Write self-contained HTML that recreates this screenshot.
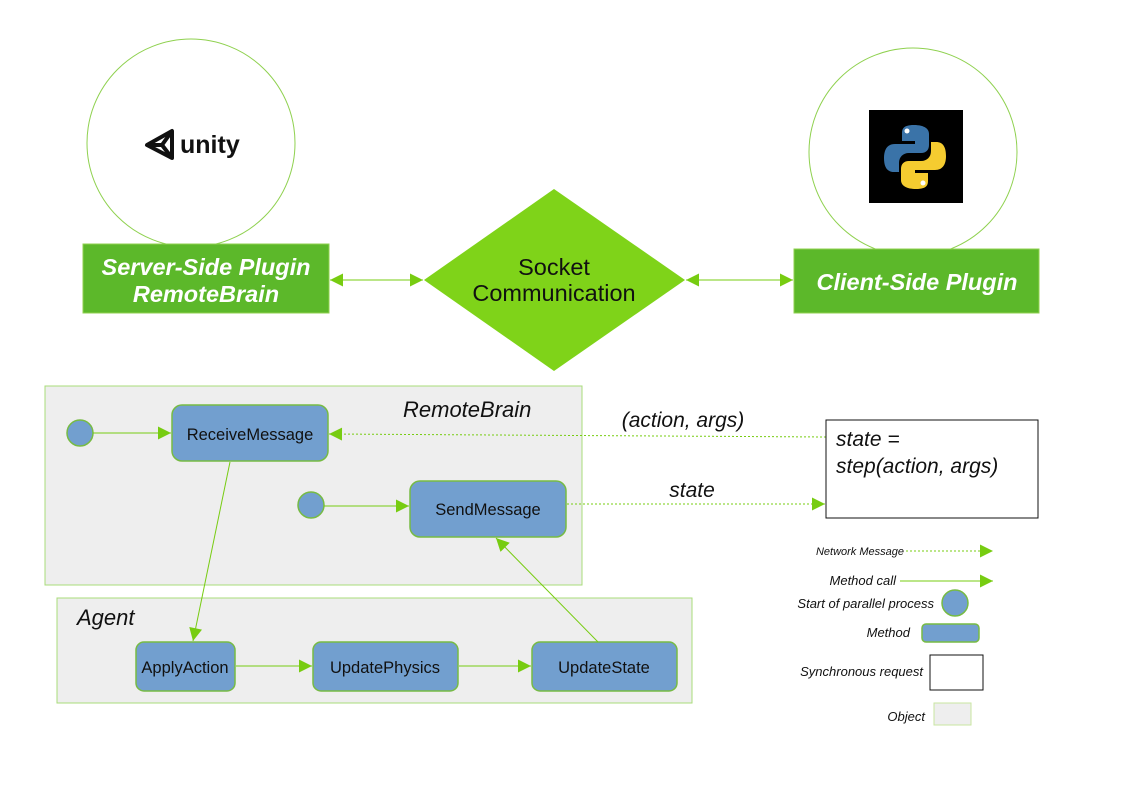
<!DOCTYPE html>
<html><head><meta charset="utf-8"><style>
body{margin:0;background:#fff}
svg{display:block}
text{font-family:"Liberation Sans",sans-serif}
</style></head><body>
<svg width="1123" height="794" viewBox="0 0 1123 794" xmlns="http://www.w3.org/2000/svg">
<defs>
<marker id="a" viewBox="0 0 10 10" refX="10" refY="5" markerWidth="17" markerHeight="13" markerUnits="userSpaceOnUse" orient="auto-start-reverse"><path d="M0,0L10,5L0,10z" fill="#77cc11"/></marker>
</defs>
<circle cx="191" cy="143" r="104" fill="#fff" stroke="#8fd14f" stroke-width="1"/>
<circle cx="913" cy="152" r="104" fill="#fff" stroke="#8fd14f" stroke-width="1"/>
<g fill="none" stroke="#111" stroke-width="4" stroke-linejoin="round">
<path d="M147,145 L172,131 L172,158 Z"/>
<path d="M147,145 L162,145 L172,131 M162,145 L172,158"/>
</g>
<text x="180" y="153" font-size="25" font-weight="bold" fill="#111">unity</text>
<rect x="869" y="110" width="94" height="93" fill="#000"/>
<path d="M914,125 c-12,0 -12,5 -12,9 v7 h13 v3 h-20 c-8,0 -11,6 -11,14 c0,9 3,14 10,14 h5 v-9 c0,-6 4,-10 10,-10 h12 c5,0 8,-3 8,-8 v-11 c0,-6 -6,-9 -15,-9z" fill="#3a73a8"/>
<path d="M916,189 c12,0 12,-5 12,-9 v-7 h-13 v-3 h20 c8,0 11,-6 11,-14 c0,-9 -3,-14 -10,-14 h-5 v9 c0,6 -4,10 -10,10 h-12 c-5,0 -8,3 -8,8 v11 c0,6 6,9 15,9z" fill="#f5cc30"/>
<circle cx="907" cy="131" r="2.5" fill="#fff"/><circle cx="923" cy="183" r="2.5" fill="#fff"/>
<rect x="83" y="244" width="246" height="69" fill="#5cb82a" stroke="#8fd14f"/>
<text x="206" y="275" font-size="23.5" font-weight="bold" font-style="italic" fill="#fff" text-anchor="middle">Server-Side Plugin</text>
<text x="206" y="302" font-size="23.5" font-weight="bold" font-style="italic" fill="#fff" text-anchor="middle">RemoteBrain</text>
<rect x="794" y="249" width="245" height="64" fill="#5cb82a" stroke="#8fd14f"/>
<text x="917" y="290" font-size="23.5" font-weight="bold" font-style="italic" fill="#fff" text-anchor="middle">Client-Side Plugin</text>
<path d="M554,189 L685,280 L554,371 L424,280 Z" fill="#7fd319"/>
<text x="554" y="275" font-size="23.5" fill="#111" text-anchor="middle">Socket</text>
<text x="554" y="301" font-size="23.5" fill="#111" text-anchor="middle">Communication</text>
<line x1="330" y1="280" x2="423" y2="280" stroke="#77cc11" marker-start="url(#a)" marker-end="url(#a)"/>
<line x1="686" y1="280" x2="793" y2="280" stroke="#77cc11" marker-start="url(#a)" marker-end="url(#a)"/>
<rect x="45" y="386" width="537" height="199" fill="#eeeeee" stroke="#a8dc7a"/>
<text x="403" y="417" font-size="22" font-style="italic" fill="#111">RemoteBrain</text>
<rect x="57" y="598" width="635" height="105" fill="#eeeeee" stroke="#a8dc7a"/>
<text x="77" y="625" font-size="22" font-style="italic" fill="#111">Agent</text>
<g fill="#729fcf" stroke="#77bb44" stroke-width="1.5">
<circle cx="80" cy="433" r="13"/><circle cx="311" cy="505" r="13"/>
<rect x="172" y="405" width="156" height="56" rx="10"/>
<rect x="410" y="481" width="156" height="56" rx="10"/>
<rect x="136" y="642" width="99" height="49" rx="8"/>
<rect x="313" y="642" width="145" height="49" rx="8"/>
<rect x="532" y="642" width="145" height="49" rx="8"/>
</g>
<g font-size="16.5" fill="#111" text-anchor="middle">
<text x="250" y="440">ReceiveMessage</text>
<text x="488" y="515">SendMessage</text>
<text x="185" y="673">ApplyAction</text>
<text x="385" y="673">UpdatePhysics</text>
<text x="604" y="673">UpdateState</text>
</g>
<g stroke="#77cc11" fill="none">
<line x1="93" y1="433" x2="171" y2="433" marker-end="url(#a)"/>
<line x1="324" y1="506" x2="409" y2="506" marker-end="url(#a)"/>
<line x1="230" y1="462" x2="193" y2="641" marker-end="url(#a)"/>
<line x1="236" y1="666" x2="312" y2="666" marker-end="url(#a)"/>
<line x1="459" y1="666" x2="531" y2="666" marker-end="url(#a)"/>
<line x1="598" y1="642" x2="496" y2="538" marker-end="url(#a)"/>
<line x1="826" y1="437" x2="329" y2="434" stroke-dasharray="2,2" marker-end="url(#a)"/>
<line x1="567" y1="504" x2="825" y2="504" stroke-dasharray="2,2" marker-end="url(#a)"/>
<line x1="906" y1="551" x2="993" y2="551" stroke-dasharray="2,2" marker-end="url(#a)"/>
<line x1="900" y1="581" x2="993" y2="581" marker-end="url(#a)"/>
</g>
<text x="683" y="427" font-size="21" font-style="italic" fill="#111" text-anchor="middle">(action, args)</text>
<text x="692" y="497" font-size="21" font-style="italic" fill="#111" text-anchor="middle">state</text>
<rect x="826" y="420" width="212" height="98" fill="#fff" stroke="#111"/>
<text x="836" y="446" font-size="21" font-style="italic" fill="#111">state =</text>
<text x="836" y="473" font-size="21" font-style="italic" fill="#111">step(action, args)</text>
<g font-style="italic" fill="#111" text-anchor="end">
<text x="904" y="555" font-size="11">Network Message</text>
<text x="896" y="585" font-size="13">Method call</text>
<text x="934" y="608" font-size="13">Start of parallel process</text>
<text x="910" y="637" font-size="13">Method</text>
<text x="923" y="676" font-size="13">Synchronous request</text>
<text x="925" y="721" font-size="13">Object</text>
</g>
<circle cx="955" cy="603" r="13" fill="#729fcf" stroke="#77bb44" stroke-width="1.5"/>
<rect x="922" y="624" width="57" height="18" rx="4" fill="#729fcf" stroke="#77bb44" stroke-width="1.5"/>
<rect x="930" y="655" width="53" height="35" fill="#fff" stroke="#111"/>
<rect x="934" y="703" width="37" height="22" fill="#eeeeee" stroke="#c8e6a0"/>
</svg>
</body></html>
